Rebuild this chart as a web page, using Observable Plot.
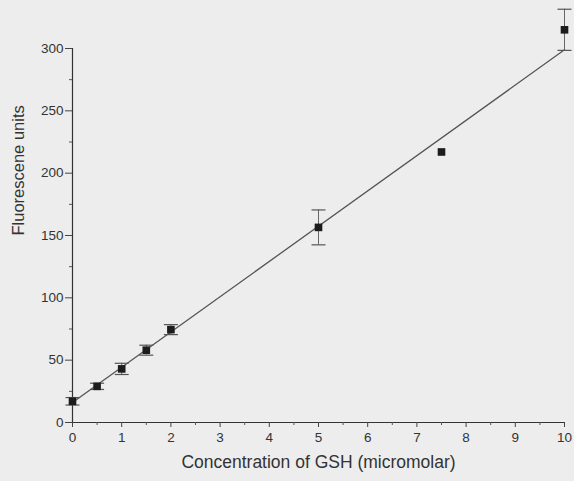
<!DOCTYPE html>
<html>
<head>
<meta charset="utf-8">
<script src="https://cdn.jsdelivr.net/npm/d3@7"></script>
<script src="https://cdn.jsdelivr.net/npm/@observablehq/plot@0.6"></script>
<style>
  html, body { margin: 0; padding: 0; background: #ededed; }
  #chart { width: 574px; height: 481px; }
</style>
</head>
<body>
<div id="chart"></div>
<script>
// Data
const concentration = [0, 0.5, 1, 1.5, 2, 5, 7.5, 10];
const fluorescence = [17, 29, 43, 58, 74.5, 156.5, 217, 315];
const errorBar = [3, 2.5, 4.5, 4, 4, 14, 0, 16.5];
const fitX = [0, 10];
const fitY = [16, 299];
const xTicks = [0, 1, 2, 3, 4, 5, 6, 7, 8, 9, 10];
const xMinorTicks = [0.5, 1.5, 2.5, 3.5, 4.5, 5.5, 6.5, 7.5, 8.5, 9.5];
const yTicks = [0, 50, 100, 150, 200, 250, 300];
const yMinorTicks = [25, 75, 125, 175, 225, 275];
const xLabel = "Concentration of GSH (micromolar)";
const yLabel = "Fluorescene units";

const points = concentration.map((x, i) => ({x, y: fluorescence[i], e: errorBar[i]}));
const withErr = points.filter(d => d.e > 0);
const fit = fitX.map((x, i) => ({x, y: fitY[i]}));

const capSymbol = {
  draw(context) {
    context.moveTo(-7, 0);
    context.lineTo(7, 0);
  }
};

const chart = Plot.plot({
  width: 574,
  height: 481,
  marginLeft: 72,
  marginRight: 10,
  marginTop: 48,
  marginBottom: 59,
  style: {background: "#ededed", fontFamily: "'Liberation Sans', Arial, sans-serif", fontSize: "13px", color: "#333"},
  x: {domain: [0, 10]},
  y: {domain: [0, 300]},
  marks: [
    Plot.ruleX([0], {y1: 0, y2: 300, stroke: "#333", strokeWidth: 1.2}),
    Plot.ruleY([0], {x1: 0, x2: 10, stroke: "#333", strokeWidth: 1.2}),
    Plot.axisY(yTicks, {tickSize: 7, tickPadding: 2, stroke: "#444", fill: "#333", fontSize: 13.5, label: null}),
    Plot.axisY(yMinorTicks, {tickSize: 3, text: null, stroke: "#555", label: null}),
    Plot.axisX(xTicks, {tickSize: 5, tickPadding: 5, stroke: "#444", fill: "#333", fontSize: 13.5, label: null}),
    Plot.axisX(xMinorTicks, {tickSize: 3, text: null, stroke: "#555", label: null}),
    Plot.line(fit, {x: "x", y: "y", stroke: "#555", strokeWidth: 1.3}),
    Plot.ruleX(withErr, {x: "x", y1: d => d.y - d.e, y2: d => d.y + d.e, stroke: "#666", strokeWidth: 1}),
    Plot.dot(withErr, {x: "x", y: d => d.y - d.e, symbol: capSymbol, stroke: "#555", strokeWidth: 1.2, fill: "none"}),
    Plot.dot(withErr, {x: "x", y: d => d.y + d.e, symbol: capSymbol, stroke: "#555", strokeWidth: 1.2, fill: "none"}),
    Plot.dot(points, {x: "x", y: "y", symbol: "square", r: 4.3, fill: "#1c1c1c", stroke: "none"}),
    Plot.text([xLabel], {frameAnchor: "bottom", dy: 45, fontSize: 17.5, fill: "#333"}),
    Plot.text([yLabel], {frameAnchor: "left", dx: -54, rotate: -90, fontSize: 16.5, fill: "#333"})
  ]
});
document.getElementById("chart").appendChild(chart);
</script>
</body>
</html>
